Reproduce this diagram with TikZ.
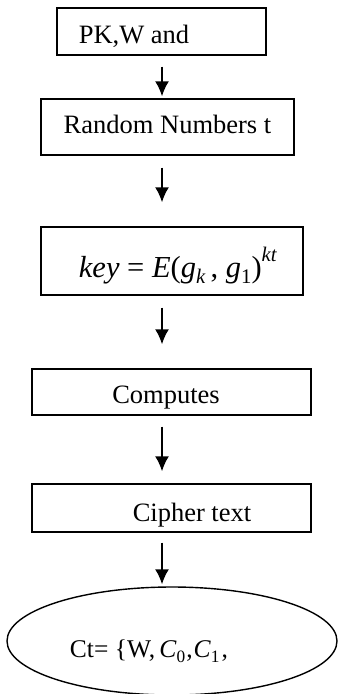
\documentclass[tikz,border=0pt]{standalone}
\usepackage{fontspec}
\setmainfont{Liberation Serif}
\usetikzlibrary{arrows.meta,shapes.geometric}
\tikzset{
  >={Latex[length=15pt,width=14pt]},
}
\tikzstyle{box}=[draw,line width=1.4pt,inner sep=0pt,text depth=0pt]
\tikzstyle{arr}=[->,line width=1.8pt]
\tikzstyle{every node}=[font=\fontsize{26.5}{30}\selectfont]
\newcommand{\lowtxt}[1]{\raisebox{-0.22em}{\fontsize{0.68em}{1em}\selectfont #1}}
\newcommand{\hightxt}[1]{\raisebox{0.5em}{\fontsize{0.68em}{1em}\selectfont #1}}

\begin{document}
\begin{tikzpicture}[x=1pt,y=-1pt]
    \useasboundingbox[fill=white] (0,0) rectangle (339,694);
    \coordinate (ax) at (162,0);
    \node[box,minimum width=209pt,minimum height=47pt,text height=23pt] (pk) at (161.5,31.5) {PK,W and\hspace*{55pt}};
    \node[box,minimum width=253pt,minimum height=56pt,text height=12pt] (rnd) at (167.5,127) {Random Numbers t};
    \node[box,minimum width=262pt,minimum height=68pt,text height=32pt,font=\fontsize{30.5}{34}\selectfont] (key) at (172,261)
      {\hspace*{12pt}\textit{key} = \textit{E}(\textit{g}\lowtxt{\textit{k}}\,, \textit{g}\lowtxt{1})\hightxt{\textit{kt}}};
    \node[box,minimum width=279pt,minimum height=46pt,text height=22pt] (cmp) at (171.5,392) {Computes\hspace*{11pt}};
    \node[box,minimum width=279pt,minimum height=48pt,text height=26pt] (cph) at (171.5,508) {\hspace*{41pt}Cipher text};
    \node[box,ellipse,minimum width=330pt,minimum height=108pt,text height=32pt,font=\fontsize{25.5}{29}\selectfont] (ct) at (172,641)
      {Ct= \{W,\,\textit{C}\lowtxt{0}\kern1pt,\kern1pt\textit{C}\lowtxt{1}\kern2pt,\hspace*{46pt}};
    % arrows
    \draw[arr,shorten <=11pt,shorten >=2pt] (pk.south -| ax) -- (rnd.north -| ax);
    \draw[arr,shorten <=12pt,shorten >=24pt] (rnd.south -| ax) -- (key.north -| ax);
    \draw[arr,shorten <=12pt,shorten >=24pt] (key.south -| ax) -- (cmp.north -| ax);
    \draw[arr,shorten <=11pt,shorten >=12pt] (cmp.south -| ax) -- (cph.north -| ax);
    \draw[arr,shorten <=10pt,shorten >=2pt] (cph.south -| ax) -- (ct.north -| ax);
\end{tikzpicture}
\end{document}
